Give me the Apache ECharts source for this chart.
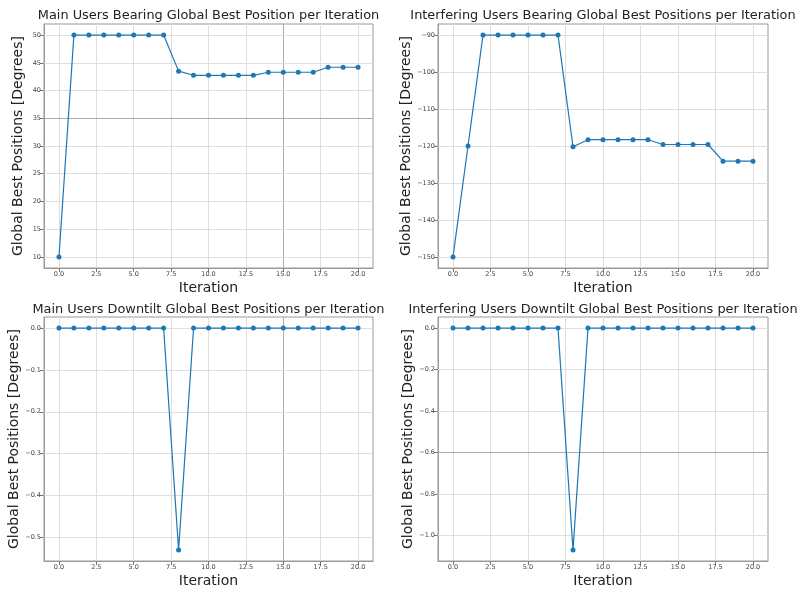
<!DOCTYPE html>
<html>
<head>
<meta charset="utf-8">
<script src="https://cdn.jsdelivr.net/npm/echarts@6/dist/echarts.min.js"></script>
<style>html,body{margin:0;padding:0;background:#fff}#c{width:801px;height:589px}</style>
</head>
<body>
<div id="c"></div>
<script>
const iterations = [0,1,2,3,4,5,6,7,8,9,10,11,12,13,14,15,16,17,18,19,20];
const mainBearing = [10,50,50,50,50,50,50,50,43.5,42.75,42.75,42.75,42.75,42.75,43.3,43.3,43.3,43.3,44.2,44.2,44.2];
const interfBearing = [-150,-120,-90,-90,-90,-90,-90,-90,-120.2,-118.3,-118.3,-118.3,-118.3,-118.3,-119.6,-119.6,-119.6,-119.6,-124.1,-124.1,-124.1];
const mainTilt = [0,0,0,0,0,0,0,0,-0.53,0,0,0,0,0,0,0,0,0,0,0,0];
const interfTilt = [0,0,0,0,0,0,0,0,-1.07,0,0,0,0,0,0,0,0,0,0,0,0];

const xTicks = [0,2.5,5,7.5,10,12.5,15,17.5,20];
const yTicks1 = [10,15,20,25,30,35,40,45,50];
const yTicks2 = [-150,-140,-130,-120,-110,-100,-90];
const yTicks3 = [-0.5,-0.4,-0.3,-0.2,-0.1,0];
const yTicks4 = [-1.0,-0.8,-0.6,-0.4,-0.2,0];

const titles = [
  'Main Users Bearing Global Best Position per Iteration',
  'Interfering Users Bearing Global Best Positions per Iteration',
  'Main Users Downtilt Global Best Positions per Iteration',
  'Interfering Users Downtilt Global Best Positions per Iteration'
];
const yName = 'Global Best Positions [Degrees]';
const xName = 'Iteration';

const FONT = 'DejaVu Sans';
const grids = [
  {left:44, top:24, width:329, height:244},
  {left:438, top:24, width:330, height:244},
  {left:44, top:317, width:329, height:245},
  {left:438, top:317, width:330, height:245}
];
const seriesData = [mainBearing, interfBearing, mainTilt, interfTilt];
const yTicks = [yTicks1, yTicks2, yTicks3, yTicks4];
const yDecimals = [0,0,1,1];
const yGaps = [19,18,16,16];
// grid lines that look darker in the reference image
const darkX = [[15],[],[15],[]];
const darkY = [[35],[],[],[-0.6]];

function range(arr){
  const mn = Math.min(...arr), mx = Math.max(...arr);
  const m = (mx-mn)*0.05;
  return [mn-m, mx+m];
}
function fmt(v, d){
  const s = Math.abs(v).toFixed(d);
  return (v < -1e-9 ? '\u2212' : '') + s;
}
const xr = range(iterations);
const LIGHT = '#dedede', DARK = '#ababab';

const option = {
  backgroundColor:'#fff',
  animation:false,
  title: titles.map((t,i)=>({
    text:t,
    left: grids[i].left + grids[i].width/2,
    textAlign:'center',
    padding:0,
    top: i<2 ? 9 : 303,
    textStyle:{fontFamily:FONT, fontSize:12.9, fontWeight:'normal', color:'#222'}
  })),
  grid: grids.map(g=>Object.assign({show:true, borderColor:'#999', borderWidth:1, backgroundColor:'transparent'}, g)),
  xAxis: grids.map((g,i)=>({
    type:'value', gridIndex:i, min:xr[0], max:xr[1],
    name:xName, nameLocation:'middle', nameGap:13,
    nameTextStyle:{fontFamily:FONT, fontSize:14, color:'#222'},
    axisLine:{show:true, onZero:false, lineStyle:{color:'#999', width:1}},
    axisTick:{show:true, length:4, lineStyle:{color:'#777'}, customValues:xTicks},
    axisLabel:{customValues:xTicks, fontFamily:FONT, fontSize:6.5, color:'#444', margin:3,
      formatter:v=>fmt(v,1)},
    splitLine:{show:false}
  })),
  yAxis: grids.map((g,i)=>{
    const r = range(seriesData[i]);
    return {
      type:'value', gridIndex:i, min:r[0], max:r[1],
      name:yName, nameLocation:'middle', nameGap:yGaps[i], nameRotate:90,
      nameTextStyle:{fontFamily:FONT, fontSize:14, color:'#222'},
      axisLine:{show:true, onZero:false, lineStyle:{color:'#999', width:1}},
      axisTick:{show:true, length:4, lineStyle:{color:'#777'}, customValues:yTicks[i]},
      axisLabel:{customValues:yTicks[i], fontFamily:FONT, fontSize:6.5, color:'#444', margin:3,
        formatter:v=>fmt(v,yDecimals[i])},
      splitLine:{show:false}
    };
  }),
  series: seriesData.map((d,i)=>({
    type:'line', xAxisIndex:i, yAxisIndex:i,
    data: iterations.map((x,k)=>[x,d[k]]),
    symbol:'circle', symbolSize:5, showSymbol:true,
    lineStyle:{color:'#1f77b4', width:1.2},
    itemStyle:{color:'#1f77b4'},
    z:3,
    markLine:{
      silent:true, symbol:['none','none'], animation:false,
      label:{show:false}, z:1,
      data: xTicks.map(v=>({xAxis:v, lineStyle:{color: darkX[i].includes(v)?DARK:LIGHT, width:1, type:'solid'}}))
        .concat(yTicks[i].map(v=>({yAxis:v, lineStyle:{color: darkY[i].includes(v)?DARK:LIGHT, width:1, type:'solid'}})))
    }
  }))
};
const chart = echarts.init(document.getElementById('c'), null, {renderer:'canvas'});
chart.setOption(option);
</script>
</body>
</html>
